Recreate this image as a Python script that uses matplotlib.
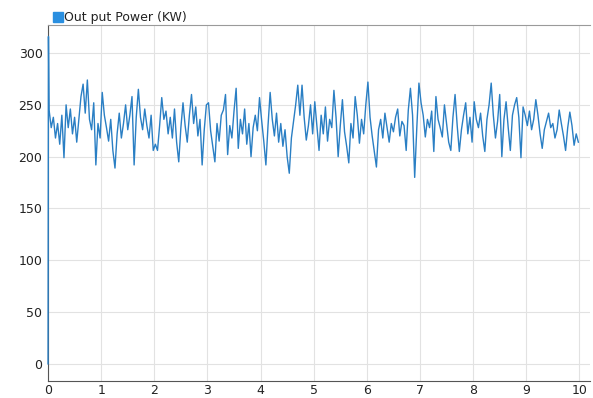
import numpy as np
import matplotlib
matplotlib.use("Agg")
import matplotlib.pyplot as plt

# start-up spike
spike_t = [0.0, 0.008]
spike_p = [0, 316]

unit0 = [245, 228, 238, 218, 232, 212, 240, 199, 250, 228, 246, 222, 238, 214, 236, 258, 270, 242, 274, 236, 226, 252, 192, 232, 218]
unit1 = [262, 240, 228, 215, 236, 206, 189, 222, 242, 218, 232, 250, 226, 240, 258, 192, 238, 265, 238, 226, 246, 230, 218, 240, 206]
unit2 = [212, 206, 230, 257, 236, 244, 222, 238, 218, 246, 214, 195, 228, 252, 230, 214, 240, 260, 232, 248, 220, 236, 192, 226, 250]
unit3 = [252, 225, 210, 195, 232, 215, 240, 245, 260, 202, 230, 218, 244, 266, 208, 236, 222, 246, 212, 232, 200, 228, 240, 225, 257]
unit4 = [235, 215, 192, 230, 262, 236, 220, 242, 214, 232, 210, 226, 200, 184, 218, 234, 250, 269, 240, 269, 238, 216, 230, 250, 222]
unit5 = [253, 230, 206, 240, 222, 248, 215, 236, 228, 264, 238, 200, 230, 255, 224, 210, 194, 232, 218, 258, 240, 213, 236, 222, 250]
unit6 = [272, 238, 220, 205, 190, 226, 236, 218, 242, 228, 214, 232, 224, 238, 246, 220, 234, 230, 206, 245, 266, 240, 180, 228, 271]
unit7 = [252, 240, 219, 236, 228, 244, 205, 258, 236, 228, 219, 250, 232, 214, 206, 238, 260, 230, 205, 226, 240, 252, 222, 238, 214]
unit8 = [253, 236, 228, 242, 220, 205, 236, 250, 271, 240, 218, 234, 260, 200, 236, 253, 228, 206, 240, 250, 257, 238, 199, 248, 240]
unit9 = [230, 244, 226, 236, 255, 240, 222, 208, 226, 234, 242, 228, 232, 218, 226, 245, 232, 220, 206, 228, 243, 230, 211, 222, 214]

power = unit0 + unit1 + unit2 + unit3 + unit4 + unit5 + unit6 + unit7 + unit8 + unit9
t_main = 0.02 + 0.04 * np.arange(len(power))

t = np.concatenate([spike_t, t_main])
p = np.concatenate([spike_p, power])

x_ticks = list(range(0, 11))
y_ticks = [0, 50, 100, 150, 200, 250, 300]

fig = plt.figure(figsize=(5.93, 3.98), dpi=100)
ax = fig.add_axes([0.081, 0.043, 0.914, 0.894])
ax.plot(t, p, color="#2a7fc4", lw=1.0, zorder=5, clip_on=False)
ax.set_xlim(0, 10.2)
ax.set_ylim(-16.4, 327)
ax.set_xticks(x_ticks)
ax.set_yticks(y_ticks)
ax.grid(True, color="#e2e2e2", lw=0.8)
ax.set_axisbelow(True)
ax.spines["right"].set_visible(False)
ax.spines["top"].set_color("#9a9a9a")
ax.spines["left"].set_color("#555555")
ax.spines["bottom"].set_color("#555555")
ax.tick_params(axis="both", length=0, labelsize=9, colors="#222222")
ax.tick_params(axis="x", pad=2)
ax.tick_params(axis="y", pad=4)

fig.patches.append(plt.Rectangle((53 / 593, 1 - 22 / 398), 10 / 593, 10 / 398,
                                 transform=fig.transFigure, color="#2a8fe0"))
fig.text(64 / 593, 1 - 17 / 398, "Out put Power (KW)", fontsize=9, va="center",
         ha="left", color="#222222")

fig.savefig("out.png", dpi=100)
